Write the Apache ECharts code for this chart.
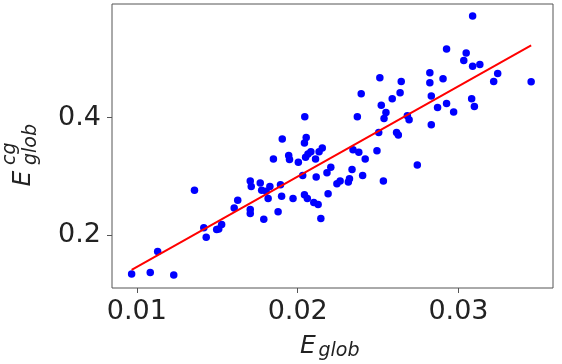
<!DOCTYPE html>
<html>
<head>
<meta charset="utf-8">
<script src="https://cdn.jsdelivr.net/npm/echarts@6/dist/echarts.min.js"></script>
<style>
  html, body { margin: 0; padding: 0; background: #fff; }
  #app { width: 562px; height: 364px; }
</style>
</head>
<body>
<div id="app"></div>
<script>
// E_glob (x) vs E_glob^cg (y)
const eglob = [0.00967, 0.01083, 0.01129, 0.01229, 0.01358, 0.01416, 0.01431, 0.01496, 0.01509, 0.01527,
  0.01605, 0.01627, 0.01705, 0.01711, 0.01705, 0.01705, 0.01767, 0.01776, 0.01789, 0.01804,
  0.01816, 0.01827, 0.01849, 0.01878, 0.01893, 0.01904, 0.0190, 0.01944, 0.01949, 0.01971,
  0.02004, 0.02031, 0.02042, 0.02044, 0.02053, 0.02049, 0.02042, 0.0206, 0.02064, 0.02082,
  0.0210, 0.02111, 0.02115, 0.02127, 0.02133, 0.02144, 0.02153, 0.02182, 0.02189, 0.02206,
  0.02244, 0.02264, 0.02315, 0.02322, 0.02338, 0.02344, 0.02371, 0.0238, 0.02395, 0.02404,
  0.0242, 0.02493, 0.02504, 0.02511, 0.0252, 0.02533, 0.02537, 0.02549, 0.02588, 0.02615,
  0.02626, 0.02637, 0.02644, 0.02682, 0.02693, 0.02744, 0.02822, 0.02822, 0.02831, 0.02831,
  0.0287, 0.02904, 0.02926, 0.02926, 0.0297, 0.03033, 0.03048, 0.03082, 0.03088, 0.03088,
  0.03099, 0.03133, 0.03219, 0.03244, 0.03452]
const eglobCg = [0.1332, 0.1360, 0.1716, 0.1315, 0.2761, 0.2123, 0.1959, 0.2094, 0.2100, 0.2179,
  0.2461, 0.2591, 0.2919, 0.2828, 0.2433, 0.2365, 0.2885, 0.2761, 0.2269, 0.2744,
  0.2620, 0.2828, 0.3297, 0.2394, 0.2857, 0.3636, 0.2659, 0.3354, 0.3286, 0.2620,
  0.3241, 0.3015, 0.3568, 0.4014, 0.3664, 0.3325, 0.2687, 0.2620, 0.3382, 0.3421,
  0.2552, 0.3297, 0.2987, 0.2518, 0.3421, 0.2281, 0.3483, 0.3060, 0.2704, 0.3156,
  0.2874, 0.2919, 0.2902, 0.2958, 0.3116, 0.3455, 0.4014, 0.3410, 0.4409, 0.3015,
  0.3297, 0.3438, 0.3749, 0.4680, 0.4212, 0.2919, 0.3986, 0.4088, 0.4325, 0.3749,
  0.3704, 0.4426, 0.4618, 0.4031, 0.3963, 0.3195, 0.4765, 0.4596, 0.4370, 0.3879,
  0.4172, 0.4663, 0.5172, 0.4240, 0.4099, 0.4974, 0.5104, 0.4325, 0.4878, 0.5736,
  0.4189, 0.4906, 0.4618, 0.4754, 0.4613]

// fitted line, two ends
const fitX = [0.00967, 0.03452]
const fitY = [0.1406, 0.5234]

const xTicks = [0.01, 0.02, 0.03]
const yTicks = [0.2, 0.4]

const FONT = '"DejaVu Sans", sans-serif'
const TXT = '#222'
const SPINE = '#555'

const points = eglob.map((v, i) => [v, eglobCg[i]])
const fitLine = fitX.map((v, i) => [v, fitY[i]])

const myChart = echarts.init(document.getElementById('app'))

const option = {
    animation: false,
    grid: {
        left: 112, right: 9, top: 4, bottom: 76,
        show: true, borderColor: SPINE, borderWidth: 1,
        outerBoundsMode: 'none'
    },
    xAxis: {
        type: 'value',
        min: 0.00845, max: 0.03588,
        axisLine: {show: false},
        splitLine: {show: false},
        axisTick: {show: true, inside: false, length: 5, customValues: xTicks, lineStyle: {color: SPINE}},
        axisLabel: {customValues: xTicks, margin: 10, fontSize: 27, fontFamily: FONT, color: TXT}
    },
    yAxis: {
        type: 'value',
        min: 0.1095, max: 0.5939,
        axisLine: {show: false},
        splitLine: {show: false},
        axisTick: {show: true, inside: false, length: 5, customValues: yTicks, lineStyle: {color: SPINE}},
        axisLabel: {customValues: yTicks, margin: 11, fontSize: 27, fontFamily: FONT, color: TXT}
    },
    graphic: [
        // x axis name: E_glob
        {type: 'text', x: 300, y: 346.4, style: {text: 'E', font: 'italic 25px ' + FONT, fill: TXT, textAlign: 'left', textVerticalAlign: 'middle'}},
        {type: 'text', x: 318.5, y: 350.9, style: {text: 'glob', font: 'italic 19px ' + FONT, fill: TXT, textAlign: 'left', textVerticalAlign: 'middle'}},
        // y axis name: E_glob^cg, rotated
        {
            type: 'group', x: 31.7, y: 186.5, rotation: Math.PI / 2,
            children: [
                {type: 'text', x: 0, y: -8.6, style: {text: 'E', font: 'italic 25px ' + FONT, fill: TXT, textAlign: 'left', textVerticalAlign: 'middle'}},
                {type: 'text', x: 21.5, y: -22.1, style: {text: 'cg', font: 'italic 19px ' + FONT, fill: TXT, textAlign: 'left', textVerticalAlign: 'middle'}},
                {type: 'text', x: 21.5, y: -1.1, style: {text: 'glob', font: 'italic 19px ' + FONT, fill: TXT, textAlign: 'left', textVerticalAlign: 'middle'}}
            ]
        }
    ],
    series: [
        {
            type: 'scatter',
            data: points,
            symbolSize: 7.5,
            itemStyle: {color: '#0000ff', opacity: 1},
            z: 2
        },
        {
            type: 'line',
            data: fitLine,
            showSymbol: false,
            lineStyle: {color: '#ff0000', width: 2},
            z: 3
        }
    ]
}

myChart.setOption(option)
</script>
</body>
</html>
